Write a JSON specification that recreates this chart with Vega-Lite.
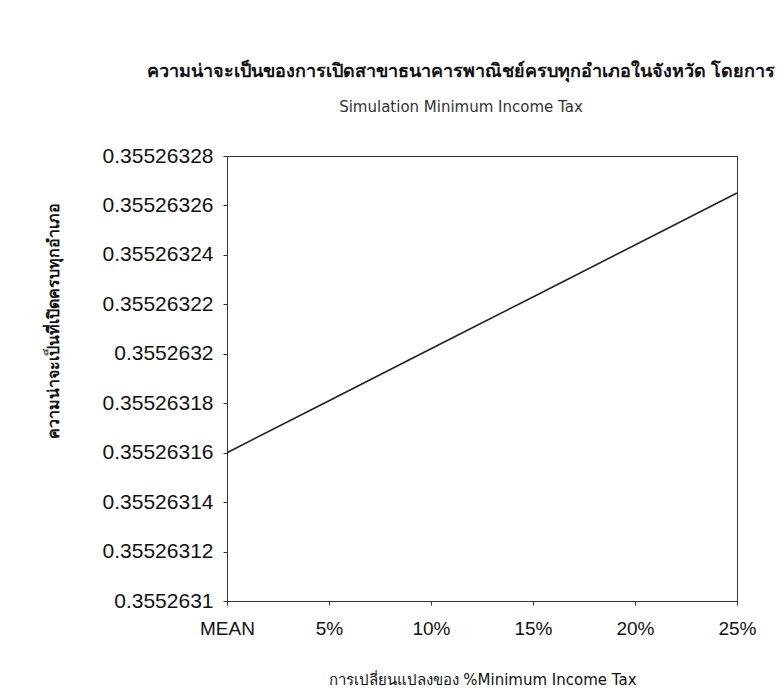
{
  "$schema": "https://vega.github.io/schema/vega-lite/v6.json",
  "autosize": {"type": "none"},
  "width": 510,
  "height": 445,
  "padding": {"left": 227, "top": 156, "right": 46, "bottom": 93},
  "background": "white",
  "config": {
    "view": {"stroke": "#333333", "strokeWidth": 1},
    "font": "Liberation Sans"
  },
  "title": {
    "text": "ความน่าจะเป็นของการเปิดสาขาธนาคารพาณิชย์ครบทุกอำเภอในจังหวัด โดยการ",
    "subtitle": "Simulation Minimum Income Tax",
    "anchor": "middle",
    "dx": -21,
    "offset": 30,
    "fontSize": 18,
    "fontWeight": "bold",
    "color": "#111111",
    "subtitleFont": "DejaVu Sans",
    "subtitleFontSize": 15,
    "subtitleColor": "#333333",
    "subtitlePadding": 19
  },
  "data": {
    "values": [
      {"step": "MEAN", "prob": 0.35526316},
      {"step": "5%", "prob": 0.355263181},
      {"step": "10%", "prob": 0.355263202},
      {"step": "15%", "prob": 0.355263223},
      {"step": "20%", "prob": 0.355263244},
      {"step": "25%", "prob": 0.355263265}
    ]
  },
  "mark": {"type": "line", "color": "#222222", "strokeWidth": 1.6},
  "encoding": {
    "x": {
      "field": "step",
      "type": "ordinal",
      "sort": null,
      "scale": {"type": "point", "padding": 0},
      "axis": {
        "title": "การเปลี่ยนแปลงของ %Minimum Income Tax",
        "titleFont": "DejaVu Sans",
        "titleFontSize": 15,
        "titleFontWeight": "normal",
        "titleColor": "#111111",
        "titlePadding": 34,
        "labelAngle": 0,
        "labelFontSize": 19,
        "labelColor": "#111111",
        "labelPadding": 14,
        "tickSize": 4,
        "tickColor": "#333333",
        "domainColor": "#333333",
        "grid": false
      }
    },
    "y": {
      "field": "prob",
      "type": "quantitative",
      "scale": {"domain": [0.3552631, 0.35526328], "zero": false, "nice": false},
      "axis": {
        "title": "ความน่าจะเป็นที่เปิดครบทุกอำเภอ",
        "titleFontSize": 16,
        "titleFontWeight": "bold",
        "titleColor": "#111111",
        "titleX": -166,
        "titleY": 164,
        "titleAngle": -90,
        "values": [0.3552631, 0.35526312, 0.35526314, 0.35526316, 0.35526318, 0.3552632, 0.35526322, 0.35526324, 0.35526326, 0.35526328],
        "format": ".8~f",
        "labelFontSize": 21,
        "labelColor": "#111111",
        "labelPadding": 10,
        "tickSize": 4,
        "tickColor": "#333333",
        "domainColor": "#333333",
        "grid": false
      }
    }
  }
}
